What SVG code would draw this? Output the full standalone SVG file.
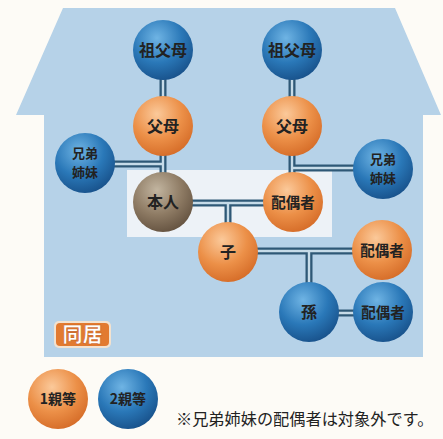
<svg xmlns="http://www.w3.org/2000/svg" width="443" height="439" viewBox="0 0 443 439">
<defs>
<radialGradient id="gBlue" cx="0.4" cy="0.3" r="0.75">
<stop offset="0" stop-color="#6fb4e4"/>
<stop offset="0.55" stop-color="#2a78b8"/>
<stop offset="1" stop-color="#174f88"/>
</radialGradient>
<radialGradient id="gOrange" cx="0.4" cy="0.3" r="0.75">
<stop offset="0" stop-color="#fbc99a"/>
<stop offset="0.55" stop-color="#ec9048"/>
<stop offset="1" stop-color="#d46a26"/>
</radialGradient>
<radialGradient id="gBrown" cx="0.4" cy="0.3" r="0.75">
<stop offset="0" stop-color="#c2b5a0"/>
<stop offset="0.55" stop-color="#8e7b64"/>
<stop offset="1" stop-color="#62503e"/>
</radialGradient>
</defs>
<style>
.bg{fill:#fdfbf6}
.house{fill:#b6d2e8}
.hl{fill:#edf2f7}
.lo{fill:none;stroke:#2e5876;stroke-width:7}
.li{fill:none;stroke:#c6dbe8;stroke-width:2.4}
.b{fill:url(#gBlue)}
.o{fill:url(#gOrange)}
.br{fill:url(#gBrown)}
.t{font-family:"Noto Sans CJK JP","Noto Sans CJK SC",sans-serif;font-weight:bold;fill:#222;text-anchor:middle}
.n{font-size:16px}
.s{font-size:14.5px}
.k{font-size:13px}
.lg{font-size:14px}
.note{font-family:"Noto Sans CJK JP",sans-serif;font-size:16.2px;fill:#222}
</style>
<rect class="bg" x="0" y="0" width="443" height="439"/>
<path class="house" d="M63,8 L395,8 L441,115 L423,115 L423,357 L44,357 L44,115 L16,115 Z"/>
<rect class="hl" x="127" y="170" width="205" height="67"/>
<g id="connectors">
<path class="lo" d="M163,50 V202 M292,50 V202 M85,164 H163 M292,168 H383 M163,203 H293 M228,203 V252 M228,251 H382 M309,251 V312 M309,313 H383"/>
<path class="li" d="M163,50 V202 M292,50 V202 M85,164 H163 M292,168 H383 M163,203 H293 M228,203 V252 M228,251 H382 M309,251 V312 M309,313 H383"/>
</g>
<g id="sofubo-l"><circle class="b" cx="163" cy="50" r="30"/><text class="t n" x="163" y="56">祖父母</text></g>
<g id="sofubo-r"><circle class="b" cx="292" cy="50" r="30"/><text class="t n" x="292" y="56">祖父母</text></g>
<g id="fubo-l"><circle class="o" cx="163" cy="126" r="30"/><text class="t n" x="163" y="132">父母</text></g>
<g id="fubo-r"><circle class="o" cx="292" cy="126" r="30"/><text class="t n" x="292" y="132">父母</text></g>
<g id="kyodai-l"><circle class="b" cx="85" cy="163" r="30"/><text class="t k" x="85" y="158">兄弟</text><text class="t k" x="85" y="177">姉妹</text></g>
<g id="kyodai-r"><circle class="b" cx="383" cy="169" r="30"/><text class="t k" x="383" y="164">兄弟</text><text class="t k" x="383" y="183">姉妹</text></g>
<g id="honnin"><circle class="br" cx="163" cy="202" r="30"/><text class="t n" x="163" y="208">本人</text></g>
<g id="haigusha"><circle class="o" cx="293" cy="202" r="30"/><text class="t s" x="293" y="208">配偶者</text></g>
<g id="ko"><circle class="o" cx="228" cy="252" r="30"/><text class="t n" x="228" y="258">子</text></g>
<g id="haigusha-ko"><circle class="o" cx="382" cy="250" r="30"/><text class="t s" x="382" y="256">配偶者</text></g>
<g id="mago"><circle class="b" cx="309" cy="312" r="30"/><text class="t n" x="309" y="318">孫</text></g>
<g id="haigusha-mago"><circle class="b" cx="383" cy="312" r="30"/><text class="t s" x="383" y="318">配偶者</text></g>
<g id="dokyo">
<rect x="54" y="321" width="57" height="27" rx="5" fill="#f3e2cf"/>
<rect x="56" y="323" width="53" height="23" rx="4" fill="#e27a30"/>
<text x="82.5" y="342" font-family="Noto Sans CJK JP,sans-serif" font-weight="900" font-size="20" fill="#fff" stroke="#c85f1c" stroke-width="0.6" text-anchor="middle">同居</text>
</g>
<g id="legend1"><circle class="o" cx="58" cy="399" r="30"/><text class="t lg" x="58" y="404">1親等</text></g>
<g id="legend2"><circle class="b" cx="128" cy="399" r="30"/><text class="t lg" x="128" y="404">2親等</text></g>
<text class="note" x="176" y="425">※兄弟姉妹の配偶者は対象外です。</text>
</svg>
